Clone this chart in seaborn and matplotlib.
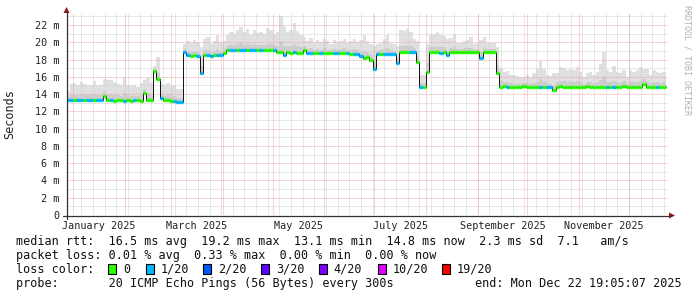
import numpy as np
import matplotlib
matplotlib.use("Agg")
import matplotlib.pyplot as plt
import seaborn as sns
from matplotlib.patches import Polygon, Rectangle

# ---------------- data (2-day bins, day 0 = 1 Jan 2025) ----------------
bin_start_day = -4
bin_days = 2

median_ms = (
    [13.35, 13.35, 13.3, 13.35, 13.35, 13.3, 13.35, 13.35, 13.3, 13.35, 13.35]
    + [13.8]
    + [13.3, 13.3, 13.25, 13.3, 13.3, 13.25, 13.3, 13.25, 13.3, 13.3, 13.25]
    + [14.1, 13.3, 13.3, 16.7, 15.7, 13.5]
    + [13.3, 13.3, 13.2, 13.2, 13.1, 13.1]
    + [18.9, 18.5, 18.45, 18.5, 18.45, 16.4]
    + [18.5, 18.5, 18.45, 18.5, 18.5, 18.55, 18.8]
    + [19.1, 19.05, 19.1, 19.15, 19.1, 19.1, 19.05, 19.1, 19.15, 19.1, 19.1, 19.05, 19.1, 19.1, 19.05]
    + [18.9, 18.85, 18.5, 18.85, 18.8, 18.85, 18.8, 18.8, 19.05]
    + [18.8, 18.8, 18.75, 18.8, 18.8, 18.8, 18.75, 18.8, 18.8, 18.75, 18.8, 18.8, 18.75, 18.7, 18.7]
    + [18.7, 18.4, 18.2, 18.3, 17.9, 16.9]
    + [18.6, 18.7, 18.7, 18.7, 18.7, 18.7, 17.6]
    + [18.85, 18.85, 18.85, 18.85, 18.85, 17.7, 14.85, 14.85, 16.6]
    + [18.85, 18.85, 18.85, 18.8, 18.85, 18.5, 18.85, 18.85, 18.85, 18.85,
       18.9, 18.85, 18.85, 18.85, 18.85, 18.2, 18.85, 18.85, 18.85, 18.85, 16.4]
    + [14.85, 14.9, 14.85, 14.85, 14.8, 14.85, 14.85, 14.9, 14.85, 14.85,
       14.85, 14.8, 14.85, 14.85, 14.85, 14.85, 14.5, 14.85, 14.9, 14.85,
       14.85, 14.85, 14.8, 14.85, 14.85, 14.85, 14.9, 14.85, 14.85, 14.85,
       14.85, 14.85, 14.8, 14.85, 14.85, 14.85, 14.85, 14.9, 14.85, 14.85,
       14.85, 14.85, 14.85, 15.2, 14.85, 14.85, 14.8, 14.85, 14.85, 14.85]
)

smoke_max_ms = (
    [14.4, 15.2, 15.3, 15.1, 15.4, 15.2, 15.0, 15.1, 15.5, 15.1, 15.0, 15.8,
     15.6, 15.6, 15.4, 15.2, 15.0, 16.0, 15.1, 14.9, 15.0, 14.8, 15.3, 15.6,
     15.9, 15.3, 17.2, 18.3, 15.2, 15.0, 15.3, 14.9, 15.0, 14.6, 14.6, 19.8]
    + [20.2, 19.9, 20.3, 20.0, 19.4, 20.4, 20.6, 19.8, 20.1, 20.8, 20.0]
    + [20.2, 20.8, 21.2, 21.0, 21.4, 21.8, 21.2, 21.5, 21.0, 21.4, 21.1, 21.2,
       21.0, 21.6, 21.4, 21.0, 21.2, 23.1, 21.9, 21.2, 21.4, 22.2, 21.3, 20.8, 20.6]
    + [20.2, 20.5, 19.9, 20.3, 20.0, 20.4, 20.1, 19.8, 20.3, 20.0, 20.1, 20.4,
       19.9, 20.2, 20.4, 20.0, 20.3, 20.8, 20.1, 19.8, 19.6, 19.8, 19.9, 20.4,
       20.8, 19.9, 19.8, 19.6, 21.4, 21.3, 21.5, 21.2, 20.4, 20.2]
    + [16.2, 16.2, 19.8]
    + [20.8, 21.0, 21.2, 20.8, 20.7, 20.4, 20.5, 21.0, 19.9, 19.9, 20.2, 20.3,
       20.6, 19.8, 19.9, 20.3, 20.6, 19.9, 19.9, 19.9, 19.5]
    + [17.0, 16.6, 16.7, 16.2, 16.2, 16.1, 16.0, 16.0, 16.2, 16.0, 16.4, 16.9,
       17.8, 16.9, 16.2, 16.1, 16.4, 16.5, 17.1, 17.0, 16.8, 16.9, 16.8, 17.1,
       16.6, 16.0, 16.4, 16.6, 16.2, 16.6, 17.5, 18.9, 16.8, 16.6, 17.2, 16.6,
       16.4, 16.8, 16.0, 16.8, 16.6, 16.8, 17.1, 16.9, 16.9, 16.2, 16.8, 16.6,
       16.4, 16.6]
)

loss_idx = (
    [1, 1, 0, 1, 1, 0, 1, 1, 0, 1, 1, 0, 0, 1, 0, 0, 0, 1, 0, 0, 1, 0, 0, 0,
     0, 0, 0, 0, 1, 0, 0, 0, 1, 1, 1, 1]
    + [1, 0, 0, 1, 1, 0, 1, 1, 0, 1, 1]
    + [0, 0, 1, 1, 0, 1, 1, 0, 1, 1, 0, 1, 0, 0, 0, 1, 0, 0, 1, 0, 0, 1, 0, 0, 0]
    + [1, 1, 0, 0, 1, 0, 0, 0, 1, 1, 0, 0, 1, 0, 1]
    + [1, 1, 0, 0, 0, 1, 1, 0, 1, 1, 1, 1, 1, 0, 0, 0, 1, 1, 0, 1, 0, 0, 0, 0,
       0, 1, 0, 1, 0, 0, 0, 0, 0, 0, 0, 0, 0, 1, 0, 0, 0, 0, 0, 0]
    + [0, 1, 0, 0, 0, 0, 0, 0, 0, 0, 0, 1, 0, 1, 1, 0, 0, 0, 0, 0, 0, 0, 0, 0,
       0, 0, 0, 0, 0, 0, 0, 1, 0, 1, 0, 0, 0, 0, 0, 0, 0, 0, 0, 0, 0, 0, 1, 0, 0]
)

loss_colors = ["#26ff00", "#00b8ff", "#0059ff", "#5e00ff", "#7e00ff", "#dd00ff", "#ff0000"]
loss_labels = ["0", "1/20", "2/20", "3/20", "4/20", "10/20", "19/20"]

month_start_days = [0, 31, 59, 90, 120, 151, 181, 212, 243, 273, 304, 334]
label_days = [15.5, 74.5, 135.5, 196.5, 258, 319]
label_texts = ["January 2025", "March 2025", "May 2025", "July 2025",
               "September 2025", "November 2025"]
week_days = list(range(5, 357, 7))
y_major = list(range(0, 23, 2))
y_minor = list(range(1, 24, 2))

legend_lines = [
    "median rtt:  16.5 ms avg  19.2 ms max  13.1 ms min  14.8 ms now  2.3 ms sd  7.1   am/s",
    "packet loss: 0.01 % avg  0.33 % max  0.00 % min  0.00 % now",
]
probe_text = "probe:       20 ICMP Echo Pings (56 Bytes) every 300s"
end_text = "end: Mon Dec 22 19:05:07 2025"

# ---------------- figure ----------------
sns.set_theme(style="white")
plt.rcParams["font.family"] = ["DejaVu Sans Mono"]

W, H = 697, 297
fig = plt.figure(figsize=(W / 100, H / 100), dpi=100)
fig.patch.set_facecolor("white")

L, R, B, T = 67, 668, 215, 14
ax = fig.add_axes([L / W, (H - B) / H, (R - L) / W, (B - T) / H])
ax.set_facecolor("white")
xmin, xmax = -3.6, 357.4
ymax = (B - T) / (190 / 22)
ax.set_xlim(xmin, xmax)
ax.set_ylim(0, ymax)
for s in ax.spines.values():
    s.set_visible(False)

n = len(median_ms)
med = np.array(median_ms)
hi = np.array(smoke_max_ms)
edges = bin_start_day + bin_days * np.arange(n + 1)
lo = med - 0.2
mid = med + 0.3 * (hi - med)
ext = lambda a: np.r_[a, a[-1]]

ax.fill_between(edges, ext(lo), ext(hi), step="post", color="#e0e0e0", lw=0, zorder=1)
ax.fill_between(edges, ext(lo), ext(mid), step="post", color="#cdcdcd", lw=0, zorder=1.1)

dot = (0, (1, 1))
grid_kw = dict(lw=0.72, ls=dot)
for v in y_minor:
    ax.axhline(v, color="#d2d2d2", zorder=2, **grid_kw)
for d in week_days:
    ax.axvline(d, color="#d2d2d2", zorder=2, **grid_kw)
for v in y_major[1:]:
    ax.axhline(v, color="#eeaaaa", zorder=2.1, **grid_kw)
for d in month_start_days:
    ax.axvline(d, color="#eeaaaa", zorder=2.1, **grid_kw)

n_before = len(ax.get_lines())
sns.lineplot(x=edges, y=ext(med), drawstyle="steps-post", color="#111111",
             lw=0.7, ax=ax, estimator=None, sort=False)
for ln in ax.get_lines()[n_before:]:
    ln.set_zorder(3)
ax.hlines(med, edges[:-1], edges[1:], colors=[loss_colors[k] for k in loss_idx],
          lw=2.4, zorder=6, capstyle="butt")

ax.set_xticks(label_days)
ax.set_xticklabels(label_texts, fontsize=7.3, color="#222222")
ax.tick_params(axis="x", length=0, pad=4.6)
ax.set_yticks(y_major)
ax.set_yticklabels(["0"] + [f"{v} m" for v in y_major[1:]], fontsize=7.3, color="#222222")
ax.tick_params(axis="y", length=2.2, width=0.72, color="#444444", direction="out", pad=3.0)
ax.set_xlabel("")
ax.set_ylabel("")

# ---------------- overlay in pixel coordinates ----------------
ov = fig.add_axes([0, 0, 1, 1], zorder=10)
ov.set_xlim(0, W)
ov.set_ylim(H, 0)
ov.axis("off")
ov.patch.set_alpha(0)

ov.plot([63, 670], [215.5, 215.5], color="#333333", lw=0.9)
ov.plot([66.5, 66.5], [219, 12], color="#333333", lw=0.9)
ov.add_patch(Polygon([[63.5, 13], [69.5, 13], [66.5, 7]], closed=True, color="#8b1a1a", lw=0))
ov.add_patch(Polygon([[669, 212.5], [669, 218.5], [675, 215.5]], closed=True, color="#8b1a1a", lw=0))

ov.text(10, 114, "Seconds", rotation=90, ha="center", va="center", fontsize=8.5, color="#222222")
ov.text(687, 5, "RRDTOOL / TOBI OETIKER", rotation=270, ha="center", va="top",
        fontsize=6, color="#b0b0b0")

fs = 8.5
ov.text(16, 241.5, legend_lines[0], ha="left", va="center", fontsize=fs, color="#111111")
ov.text(16, 255.5, legend_lines[1], ha="left", va="center", fontsize=fs, color="#111111")
ov.text(16, 269.3, "loss color:", ha="left", va="center", fontsize=fs, color="#111111")
box_x = [108.3, 145.7, 203.3, 261.0, 319.0, 378.3, 441.7]
for bx, c, lab in zip(box_x, loss_colors, loss_labels):
    ov.add_patch(Rectangle((bx, 264.3), 8, 9.7, facecolor=c, edgecolor="black", lw=0.8))
    ov.text(bx + 14.8, 269.3, lab, ha="left", va="center", fontsize=fs, color="#111111")
ov.text(16, 283.3, probe_text, ha="left", va="center", fontsize=fs, color="#111111")
ov.text(682, 283.3, end_text, ha="right", va="center", fontsize=fs, color="#111111")

fig.savefig("out.png", dpi=100, facecolor="white")
